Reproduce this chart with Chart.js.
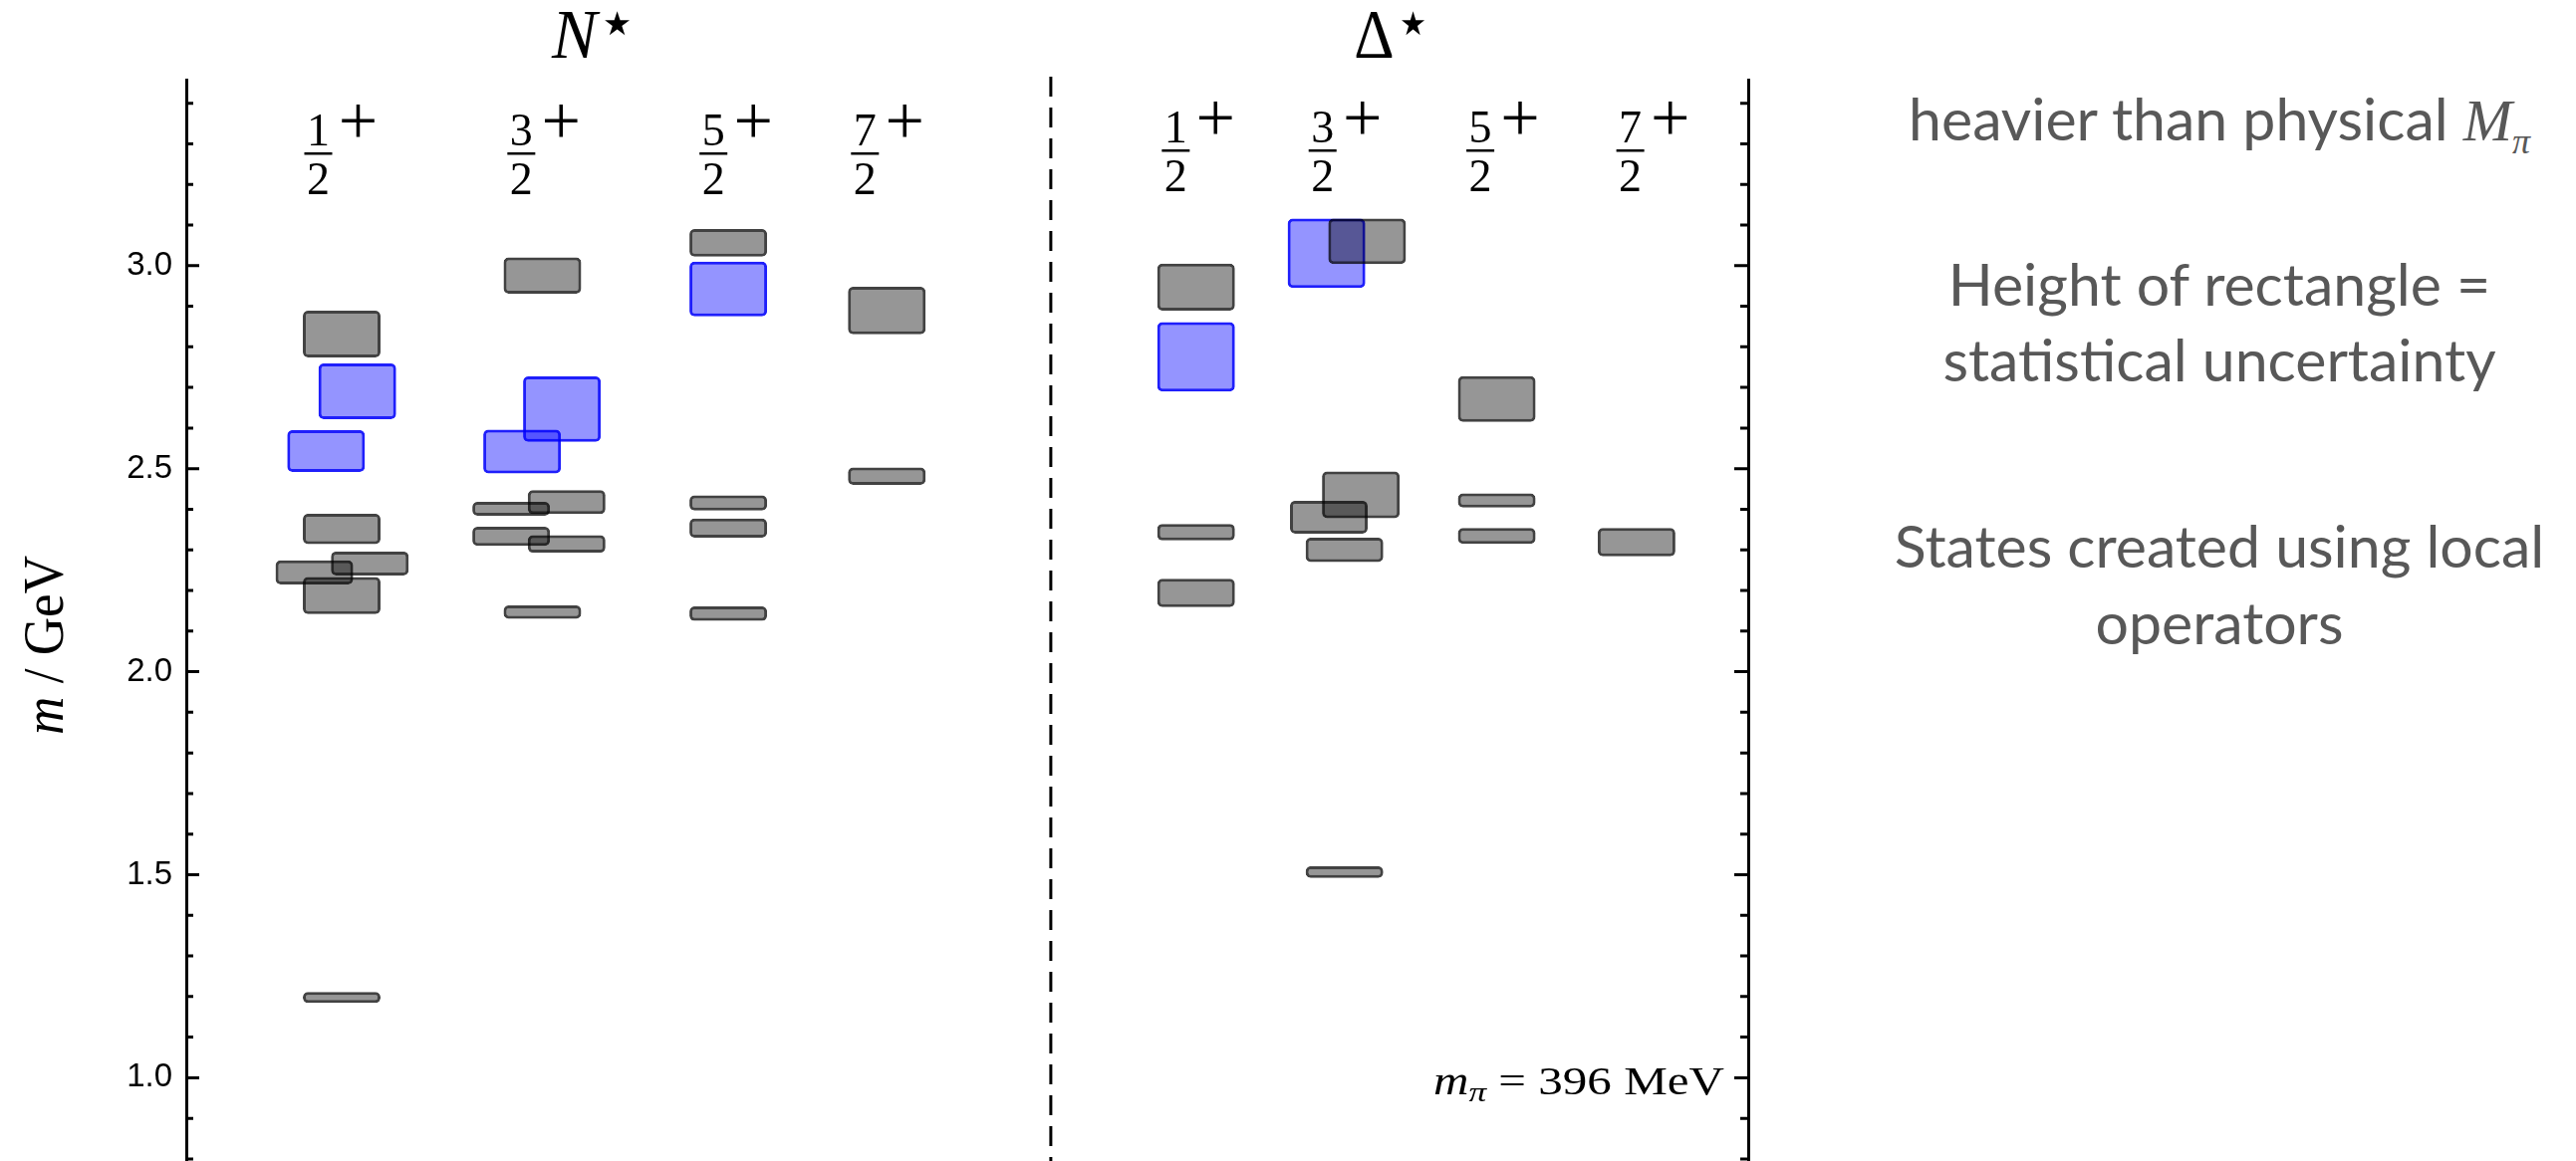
<!DOCTYPE html>
<html>
<head>
<meta charset="utf-8">
<script src="https://cdn.jsdelivr.net/npm/chart.js@4.4.0/dist/chart.umd.min.js"></script>
<style>
  html, body { margin: 0; padding: 0; background: #fff; width: 2586px; height: 1166px; overflow: hidden; }
  #plot { position: absolute; left: 0; top: 0; }
  .note { position: absolute; left: 1828px; width: 800px; text-align: center; white-space: nowrap;
          font-family: Lato, "Open Sans", sans-serif; font-size: 59px; line-height: 70px; color: #585858; }
  .note i { font-family: "Liberation Serif", serif; }
  .note sub { font-family: "Liberation Serif", serif; font-style: italic; font-size: 36px; }
</style>
</head>
<body>
<canvas id="plot" width="1800" height="1166"></canvas>
<div class="note" style="top:84px">heavier than physical <i>M</i><sub>π</sub></div>
<div class="note" style="top:250px">Height of rectangle =</div>
<div class="note" style="top:326px">statistical uncertainty</div>
<div class="note" style="top:513px">States created using local</div>
<div class="note" style="top:590px">operators</div>

<script>
// mass axis (GeV)
const yMin = 0.795, yMax = 3.458;
const yTicks = [1.0, 1.5, 2.0, 2.5, 3.0];

// J^P columns: numerator of J = n/2, x position of each column label
const spinNum = ['1', '3', '5', '7', '1', '3', '5', '7'];
const labelX = [1.69, 4.29, 6.75, 8.69, 12.67, 14.55, 16.57, 18.49];
const panelNames = ['N', 'Δ'];
const panelX = [5.23, 15.45];
const dividerX = 11.07;

// states: [x, low mass, high mass]
const nGray = [
  [1.99, 2.774, 2.889], [1.99, 2.314, 2.389], [2.35, 2.237, 2.296], [1.64, 2.215, 2.274],
  [1.99, 2.142, 2.233], [1.99, 1.184, 1.211],
  [4.56, 2.931, 3.020], [4.87, 2.388, 2.447], [4.16, 2.384, 2.418], [4.16, 2.310, 2.357],
  [4.87, 2.293, 2.336], [4.56, 2.130, 2.163],
  [6.94, 3.022, 3.090], [6.94, 2.397, 2.434], [6.94, 2.330, 2.377], [6.94, 2.125, 2.161],
  [8.97, 2.831, 2.948], [8.97, 2.460, 2.503]
];
const dGray = [
  [12.93, 2.889, 3.005], [12.93, 2.323, 2.364], [12.93, 2.159, 2.229],
  [15.12, 3.004, 3.116], [15.04, 2.378, 2.493], [14.63, 2.340, 2.421], [14.83, 2.270, 2.330],
  [14.83, 1.492, 1.521],
  [16.78, 2.615, 2.728], [16.78, 2.404, 2.439], [16.78, 2.315, 2.354],
  [18.57, 2.284, 2.354]
];
const nBlue = [
  [2.19, 2.622, 2.759], [1.79, 2.492, 2.595],
  [4.81, 2.566, 2.727], [4.30, 2.488, 2.596],
  [6.94, 2.875, 3.010]
];
const dBlue = [
  [12.93, 2.690, 2.861],
  [14.60, 2.945, 3.116]
];

const toBars = (list) => list.map(s => ({ x: s[0], y: [s[1], s[2]] }));

// draws a row of text pieces, optionally fitted to a width
function drawRuns(ctx, runs, x, y, width, align) {
  let natural = 0;
  runs.forEach(r => { ctx.font = r.f; natural += ctx.measureText(r.t).width; });
  const sx = width ? width / natural : 1;
  const total = natural * sx;
  const start = align === 'right' ? x - total : align === 'center' ? x - total / 2 : x;
  ctx.save();
  ctx.translate(start, y);
  ctx.scale(sx, 1);
  let cx = 0;
  runs.forEach(r => {
    ctx.font = r.f;
    ctx.textAlign = 'left';
    const m = ctx.measureText(r.t);
    let dy = r.dy || 0;
    if (r.mid !== undefined) dy = r.mid + (m.actualBoundingBoxAscent - m.actualBoundingBoxDescent) / 2;
    ctx.fillText(r.t, cx, dy);
    cx += m.width;
  });
  ctx.restore();
}

const decor = {
  id: 'decor',
  afterDraw(chart) {
    const { ctx, chartArea, scales: { x, y } } = chart;
    ctx.save();
    ctx.strokeStyle = '#000';
    ctx.fillStyle = '#000';

    // tick marks pointing inwards on both frame sides
    ctx.lineWidth = 3;
    for (let k = Math.ceil(yMin * 10); k <= Math.floor(yMax * 10); k++) {
      const py = y.getPixelForValue(k / 10);
      const major = k % 5 === 0;
      ctx.beginPath();
      ctx.moveTo(chartArea.left, py); ctx.lineTo(chartArea.left + (major ? 13 : 7), py);
      ctx.moveTo(chartArea.right, py); ctx.lineTo(chartArea.right - (major ? 14 : 8), py);
      ctx.stroke();
    }

    // dashed divider between N* and Delta*
    const dx = x.getPixelForValue(dividerX);
    ctx.setLineDash([20, 11]);
    ctx.beginPath(); ctx.moveTo(dx, chartArea.top - 3); ctx.lineTo(dx, chartArea.bottom); ctx.stroke();
    ctx.setLineDash([]);

    // J^P labels
    ctx.textBaseline = 'alphabetic';
    spinNum.forEach((n, i) => {
      const px = x.getPixelForValue(labelX[i]);
      const dy = i >= 4 ? -3 : 0;
      ctx.textAlign = 'center';
      ctx.font = '46px "Liberation Serif"';
      ctx.fillText(n, px, 146 + dy);
      ctx.fillText('2', px, 195 + dy);
      ctx.fillRect(px - 14, 153 + dy, 28, 2.5);
      ctx.font = '70px "Liberation Serif"';
      const m = ctx.measureText('+');
      ctx.fillText('+', px + 40, 121 + dy + (m.actualBoundingBoxAscent - m.actualBoundingBoxDescent) / 2);
    });

    // panel titles
    panelNames.forEach((name, i) => {
      const px = x.getPixelForValue(panelX[i]);
      drawRuns(ctx, [
        { t: name, f: (i === 0 ? 'italic ' : '') + '69px "Liberation Serif"' },
        { t: '⋆', f: '66px "DejaVu Sans"', mid: -35 }
      ], px, 58, i === 0 ? 86 : 78, 'center');
    });

    // pion mass note
    drawRuns(ctx, [
      { t: 'm', f: 'italic 39px "Liberation Serif"' },
      { t: 'π', f: 'italic 28px "Liberation Serif"', dy: 7 },
      { t: ' = 396 ', f: '39px "Liberation Serif"' },
      { t: 'MeV', f: '39px "Liberation Serif"' }
    ], chartArea.right - 24, 1099, 292, 'right');

    // axis title, rotated
    ctx.save();
    ctx.translate(63, 648);
    ctx.rotate(-Math.PI / 2);
    drawRuns(ctx, [
      { t: 'm', f: 'italic 56px "Liberation Serif"' },
      { t: ' / GeV', f: '56px "Liberation Serif"' }
    ], 0, 0, 180, 'center');
    ctx.restore();

    ctx.restore();
  }
};

const noEdgePadding = (w) => (s) => { s.width = w; s.paddingTop = 0; s.paddingBottom = 0; };

new Chart(document.getElementById('plot'), {
  type: 'bar',
  data: {
    datasets: [
      { label: 'N gray', data: toBars(nGray), backgroundColor: 'rgba(0,0,0,0.41)', borderColor: 'rgba(0,0,0,0.74)', order: 0 },
      { label: 'D gray', data: toBars(dGray), backgroundColor: 'rgba(0,0,0,0.41)', borderColor: 'rgba(0,0,0,0.74)', order: 0 },
      { label: 'N blue', data: toBars(nBlue), backgroundColor: 'rgba(0,0,255,0.42)', borderColor: 'rgba(0,0,250,0.88)', order: 1 },
      { label: 'D blue', data: toBars(dBlue), backgroundColor: 'rgba(0,0,255,0.42)', borderColor: 'rgba(0,0,250,0.88)', order: 1 }
    ]
  },
  options: {
    responsive: false,
    animation: false,
    layout: { padding: { top: 80, left: 0, right: 0, bottom: 0 } },
    datasets: {
      bar: { grouped: false, barThickness: 78, borderWidth: 3, borderRadius: 5, borderSkipped: false, inflateAmount: 0 }
    },
    plugins: { legend: { display: false }, tooltip: { enabled: false } },
    scales: {
      x: { type: 'linear', min: 0, max: 20, offset: false, display: false },
      y: {
        position: 'left', min: yMin, max: yMax,
        afterBuildTicks: s => { s.ticks = yTicks.map(v => ({ value: v })); },
        afterFit: noEdgePadding(187),
        grid: { display: false, drawTicks: false },
        border: { display: true, color: '#000', width: 3 },
        ticks: { font: { family: 'Liberation Sans', size: 33 }, color: '#000', padding: 14, callback: v => v.toFixed(1) }
      },
      y2: {
        position: 'right', min: yMin, max: yMax,
        afterFit: noEdgePadding(45),
        grid: { display: false, drawTicks: false },
        border: { display: true, color: '#000', width: 3 },
        ticks: { display: false }
      }
    }
  },
  plugins: [decor]
});
</script>
</body>
</html>
